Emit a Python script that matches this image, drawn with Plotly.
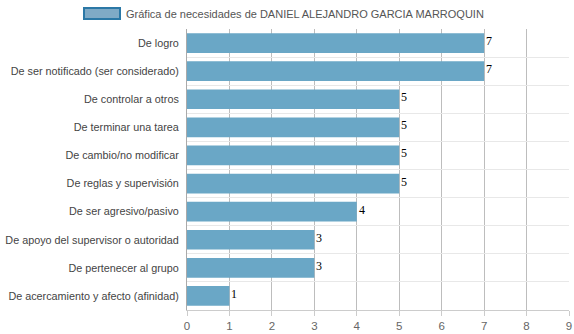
import plotly.graph_objects as go

# Needs profile for one person (values are counts)
categorias = [
    "De logro",
    "De ser notificado (ser considerado)",
    "De controlar a otros",
    "De terminar una tarea",
    "De cambio/no modificar",
    "De reglas y supervisión",
    "De ser agresivo/pasivo",
    "De apoyo del supervisor o autoridad",
    "De pertenecer al grupo",
    "De acercamiento y afecto (afinidad)",
]
valores = [7, 7, 5, 5, 5, 5, 4, 3, 3, 1]
serie = "Gráfica de necesidades de DANIEL ALEJANDRO GARCIA MARROQUIN"
ticks_x = list(range(0, 10))

BAR = "#6aa7c6"

fig = go.Figure()
fig.add_trace(go.Bar(
    x=valores,
    y=categorias,
    orientation="h",
    marker=dict(color=BAR, line=dict(width=0)),
    width=0.7,
    name=serie,
    showlegend=False,
    hoverinfo="x+y",
))

# Value labels sitting just past the end of each bar
for cat, val in zip(categorias, valores):
    fig.add_annotation(
        x=val, y=cat, text=str(val), showarrow=False,
        xanchor="left", yanchor="middle", xshift=0, yshift=2,
        font=dict(family="Liberation Serif, Times New Roman, serif", size=12, color="#000"),
    )

# Legend drawn as a wide swatch plus its caption
fig.add_shape(
    type="rect", xref="paper", yref="paper",
    x0=(84 - 187) / 382, x1=(120 - 187) / 382,
    y0=1 + (29 - 19) / 281, y1=1 + (29 - 8) / 281,
    fillcolor="#7faac6", line=dict(color="#2b78a6", width=2),
)
fig.add_annotation(
    text=serie, xref="paper", yref="paper",
    x=(124 - 187) / 382, y=1 + (29 - 13.5) / 281,
    xanchor="left", yanchor="middle", showarrow=False,
    font=dict(family="Liberation Sans, Arial, sans-serif", size=11, color="#555"),
)

fig.update_layout(
    width=574, height=334,
    margin=dict(l=187, r=5, t=29, b=24),
    paper_bgcolor="white", plot_bgcolor="white",
    font=dict(family="Liberation Sans, Arial, sans-serif", size=11, color="#444"),
    bargap=0.3,
    xaxis=dict(
        range=[0, 9], tickvals=ticks_x, ticktext=[str(t) for t in ticks_x],
        showgrid=True, gridcolor="#bdbdbd", gridwidth=1,
        zeroline=False, showline=True, linecolor="#cccccc", linewidth=1,
        ticks="outside", ticklen=5, tickcolor="#cccccc",
        tickfont=dict(color="#666", size=11.5), fixedrange=True,
        automargin=False,
    ),
    yaxis=dict(
        type="category", autorange="reversed",
        tickson="boundaries", showgrid=True, gridcolor="#e8e8e8", gridwidth=1,
        showline=True, linecolor="#aaaaaa", linewidth=1,
        ticks="", ticklabelstandoff=5,
        tickfont=dict(color="#444", size=10.8), fixedrange=True,
        automargin=False,
    ),
)

fig.write_html("out.html")
